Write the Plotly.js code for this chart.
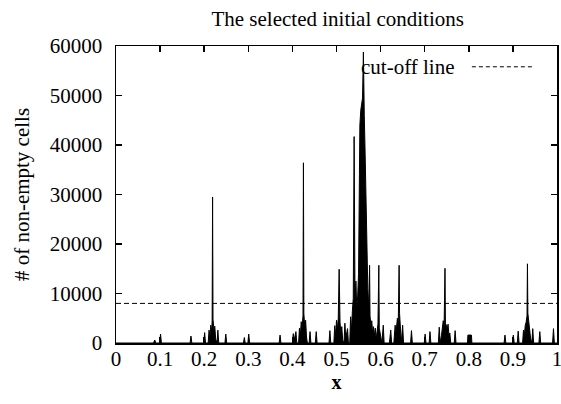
<!DOCTYPE html>
<html>
<head>
<meta charset="utf-8">
<script src="https://cdn.plot.ly/plotly-3.0.1.min.js"></script>
<style>html,body{margin:0;padding:0;background:#fff;}#chart{width:561px;height:404px;}</style>
</head>
<body>
<div id="chart"></div>
<script>
var xValues = [
  0.000, 0.085, 0.088, 0.090, 0.099, 0.101, 0.103, 0.168, 0.170, 0.172,
  0.199, 0.201, 0.203, 0.209, 0.211, 0.213, 0.215, 0.217, 0.218, 0.219,
  0.220, 0.222, 0.224, 0.226, 0.229, 0.231, 0.233, 0.247, 0.249, 0.251,
  0.289, 0.291, 0.293, 0.299, 0.301, 0.303, 0.370, 0.372, 0.374, 0.400,
  0.402, 0.404, 0.408, 0.410, 0.414, 0.416, 0.418, 0.420, 0.422, 0.424,
  0.425, 0.426, 0.428, 0.430, 0.432, 0.434, 0.438, 0.440, 0.442, 0.452,
  0.454, 0.456, 0.483, 0.485, 0.487, 0.494, 0.496, 0.498, 0.500, 0.502,
  0.504, 0.506, 0.508, 0.510, 0.512, 0.514, 0.517, 0.519, 0.521, 0.525,
  0.527, 0.530, 0.532, 0.534, 0.536, 0.538, 0.540, 0.542, 0.544, 0.546,
  0.548, 0.550, 0.552, 0.553, 0.555, 0.557, 0.559, 0.561, 0.562, 0.563,
  0.565, 0.567, 0.569, 0.571, 0.573, 0.575, 0.576, 0.578, 0.580, 0.582,
  0.584, 0.586, 0.588, 0.590, 0.594, 0.596, 0.597, 0.600, 0.603, 0.606,
  0.608, 0.620, 0.623, 0.625, 0.630, 0.633, 0.635, 0.638, 0.640, 0.642,
  0.643, 0.645, 0.647, 0.650, 0.652, 0.668, 0.670, 0.672, 0.699, 0.701,
  0.703, 0.710, 0.712, 0.714, 0.731, 0.733, 0.735, 0.738, 0.740, 0.742,
  0.744, 0.746, 0.747, 0.749, 0.751, 0.753, 0.755, 0.757, 0.759, 0.767,
  0.769, 0.771, 0.797, 0.798, 0.806, 0.807, 0.880, 0.882, 0.884, 0.899,
  0.901, 0.903, 0.910, 0.912, 0.914, 0.922, 0.924, 0.926, 0.928, 0.930,
  0.932, 0.933, 0.934, 0.936, 0.938, 0.940, 0.943, 0.945, 0.947, 0.959,
  0.961, 0.963, 0.990, 0.992, 0.994, 1.000
];
var cellCounts = [
  0, 0, 600, 0, 0, 1800, 0, 0, 1400, 0,
  0, 2100, 0, 0, 2600, 1200, 3600, 2200, 4500, 29500,
  4800, 2800, 3400, 800, 0, 2600, 0, 0, 1800, 0,
  0, 1100, 0, 0, 1800, 0, 0, 1600, 0, 0,
  1900, 600, 2300, 0, 0, 3000, 1500, 4300, 3000, 5500,
  36400, 6000, 3200, 4600, 1200, 0, 0, 2300, 0, 0,
  2300, 0, 0, 2500, 0, 0, 3500, 1500, 4600, 2800,
  5000, 14900, 4200, 2000, 3300, 600, 0, 4000, 1000, 2900,
  0, 0, 5300, 2500, 6500, 9000, 41700, 8000, 12500, 7000,
  9500, 14000, 34000, 44000, 47000, 48500, 49500, 58800, 49000, 46000,
  38000, 28000, 20000, 11000, 7000, 15700, 5500, 3500, 4500, 2000,
  3300, 1500, 3000, 800, 3800, 15700, 3000, 1500, 0, 3600,
  0, 0, 2600, 0, 0, 3600, 2000, 5000, 3800, 15700,
  6000, 3000, 0, 3600, 0, 0, 2500, 0, 0, 1800,
  0, 0, 2300, 0, 0, 3200, 0, 1500, 3800, 4500,
  3300, 15100, 4000, 3600, 2800, 3800, 1500, 2000, 0, 0,
  2500, 0, 0, 1600, 1600, 0, 0, 1600, 0, 0,
  1600, 0, 0, 2400, 0, 0, 2600, 1500, 3600, 4200,
  5500, 16000, 6000, 3800, 3000, 1000, 0, 2900, 0, 0,
  2300, 0, 0, 2900, 0, 0
];
var cutoffX = [0, 1];
var cutoffLevel = [8000, 8000];
var xTickValues = [0, 0.1, 0.2, 0.3, 0.4, 0.5, 0.6, 0.7, 0.8, 0.9, 1];
var xTickLabels = ['0', '0.1', '0.2', '0.3', '0.4', '0.5', '0.6', '0.7', '0.8', '0.9', '1'];
var yTickValues = [0, 10000, 20000, 30000, 40000, 50000, 60000];
var yTickLabels = ['0', '10000', '20000', '30000', '40000', '50000', '60000'];

var serif = "Liberation Serif, Times New Roman, serif";

var traces = [
  {
    x: xValues, y: cellCounts, type: 'scatter', mode: 'lines',
    line: {color: '#000', width: 1}, fill: 'tozeroy', fillcolor: '#000',
    name: 'cells', showlegend: false, hoverinfo: 'skip'
  },
  {
    x: cutoffX, y: cutoffLevel, type: 'scatter', mode: 'lines',
    line: {color: '#000', width: 1, dash: '5px,3px'},
    name: 'cut-off line', showlegend: false
  }
];

var layout = {
  width: 561, height: 404,
  margin: {l: 116, r: 4, t: 46, b: 61},
  paper_bgcolor: '#fff', plot_bgcolor: '#fff',
  font: {family: serif, color: '#000', size: 21},
  title: {text: 'The selected initial conditions', font: {family: serif, size: 21, color: '#000'},
          x: 0.602, xanchor: 'center', y: 0.955, yanchor: 'middle'},
  showlegend: false,
  xaxis: {
    range: [0, 1], tickvals: xTickValues, ticktext: xTickLabels, tickangle: 0,
    ticks: 'inside', ticklen: 6, tickwidth: 1.5, tickcolor: '#000',
    showline: true, linecolor: '#000', linewidth: 1.5, mirror: 'ticks',
    showgrid: false, zeroline: false, ticklabelstandoff: -4, ticklabeloverflow: 'allow',
    tickfont: {family: serif, size: 21, color: '#000'},
    title: {text: '<b>x</b>', font: {family: serif, size: 20, color: '#000'}, standoff: 4}
  },
  yaxis: {
    range: [0, 60000], tickvals: yTickValues, ticktext: yTickLabels,
    ticks: 'inside', ticklen: 6, tickwidth: 1.5, tickcolor: '#000',
    showline: true, linecolor: '#000', linewidth: 1.5, mirror: 'ticks',
    showgrid: false, zeroline: false, ticklabelstandoff: 8,
    tickfont: {family: serif, size: 21, color: '#000'},
    title: {text: '# of non-empty cells', font: {family: serif, size: 21, color: '#000'}, standoff: 14}
  },
  annotations: [
    {text: 'cut-off line', xref: 'paper', yref: 'paper', x: 0.55, y: 0.93,
     xanchor: 'left', yanchor: 'middle', showarrow: false,
     font: {family: serif, size: 21, color: '#000'}}
  ],
  shapes: [
    {type: 'line', xref: 'paper', yref: 'paper', x0: 0.807, x1: 0.943, y0: 0.93, y1: 0.93,
     line: {color: '#000', width: 1, dash: '4px,3px'}}
  ]
};

Plotly.newPlot('chart', traces, layout, {displayModeBar: false, staticPlot: true});
</script>
</body>
</html>
